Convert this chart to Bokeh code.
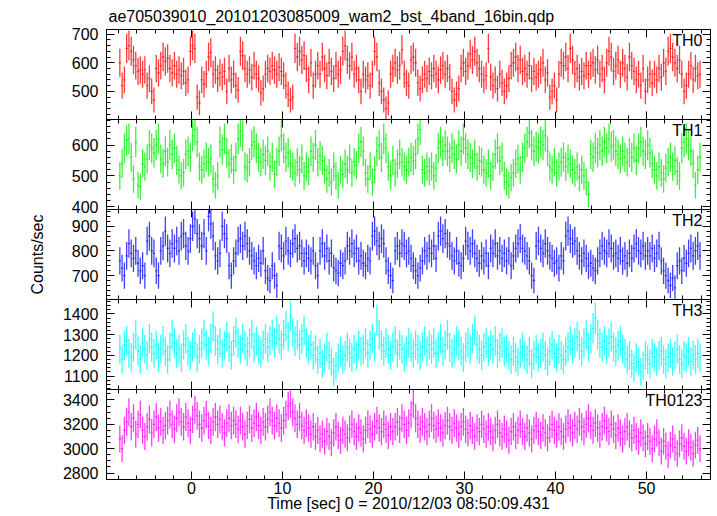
import numpy as np
from bokeh.plotting import figure
from bokeh.layouts import column
from bokeh.models import Range1d, LinearAxis, SingleIntervalTicker, Label
from bokeh.embed import file_html
from bokeh.resources import INLINE

title_text = "ae705039010_20101203085009_wam2_bst_4band_16bin.qdp"
x_label = "Time [sec] 0 = 2010/12/03 08:50:09.431"
y_label = "Counts/sec"
t_first = -7.875
bin_width = 0.25

names = ["TH0", "TH1", "TH2", "TH3", "TH0123"]

th0 = [600, 520, 540, 650, 660, 640, 610, 590, 570, 575,
       560, 575, 520, 545, 500, 470, 580, 565, 590, 620,
       605, 615, 580, 565, 590, 560, 575, 555, 570, 530,
       540, 640, 660, 650, 480, 460, 540, 525, 560, 620,
       635, 560, 575, 545, 565, 550, 570, 500, 580, 540,
       560, 520, 505, 640, 625, 580, 560, 575, 550, 590,
       560, 545, 495, 510, 560, 580, 570, 590, 575, 560,
       585, 570, 555, 520, 490, 470, 480, 650, 620, 640,
       610, 625, 580, 540, 600, 520, 560, 590, 560, 620,
       580, 555, 600, 570, 545, 590, 560, 575, 640, 660,
       610, 590, 620, 560, 580, 540, 500, 560, 540, 555,
       520, 560, 640, 620, 530, 500, 470, 440, 460, 560,
       580, 600, 575, 590, 645, 560, 530, 520, 610, 620,
       600, 530, 510, 540, 560, 545, 570, 555, 580, 560,
       540, 575, 590, 560, 580, 550, 500, 470, 490, 510,
       580, 600, 570, 590, 630, 610, 640, 600, 580, 560,
       540, 555, 650, 550, 520, 540, 510, 560, 530, 500,
       520, 545, 590, 600, 620, 580, 610, 570, 580, 560,
       590, 545, 570, 550, 560, 575, 600, 540, 565, 480,
       500, 520, 470, 560, 600, 590, 620, 580, 650, 610,
       560, 580, 550, 570, 555, 590, 560, 590, 600, 575,
       610, 560, 580, 540, 600, 640, 620, 570, 590, 610,
       560, 600, 580, 550, 620, 590, 570, 540, 560, 520,
       580, 500, 540, 560, 530, 560, 540, 580, 550, 600,
       570, 640, 650, 620, 600, 580, 610, 560, 500, 520,
       560, 590, 540, 580, 555, 560]

th1 = [500, 540, 590, 615, 620, 560, 490, 610, 470, 465,
       540, 530, 555, 600, 590, 575, 600, 620, 555, 540,
       580, 545, 600, 570, 590, 550, 520, 500, 510, 570,
       580, 560, 630, 650, 610, 530, 520, 540, 560, 545,
       555, 490, 470, 500, 610, 585, 620, 575, 540, 555,
       520, 560, 620, 645, 630, 530, 525, 545, 600, 610,
       590, 560, 545, 570, 550, 580, 530, 560, 505, 545,
       580, 630, 590, 560, 575, 540, 530, 510, 545, 520,
       555, 500, 530, 515, 580, 560, 600, 545, 565, 550,
       520, 490, 510, 480, 530, 500, 470, 520, 505, 540,
       520, 555, 510, 545, 535, 590, 610, 580, 510, 490,
       530, 480, 520, 580, 600, 560, 620, 590, 530, 500,
       550, 510, 540, 570, 545, 530, 520, 545, 560, 550,
       570, 620, 650, 520, 510, 530, 515, 530, 500, 525,
       590, 610, 580, 600, 580, 560, 590, 570, 555, 600,
       580, 620, 590, 570, 560, 540, 570, 530, 550, 545,
       520, 510, 540, 500, 530, 570, 590, 550, 560, 500,
       480, 470, 495, 510, 540, 555, 520, 560, 590, 610,
       640, 600, 580, 595, 590, 610, 600, 630, 580, 530,
       520, 545, 510, 530, 545, 560, 530, 555, 540, 520,
       510, 530, 495, 520, 500, 480, 440, 570, 560, 590,
       575, 600, 580, 610, 590, 620, 595, 600, 580, 570,
       555, 580, 560, 545, 575, 560, 590, 550, 590, 610,
       580, 570, 600, 575, 540, 520, 500, 530, 510, 490,
       525, 545, 560, 530, 550, 515, 500, 590, 610, 620,
       600, 580, 540, 470, 520, 560]

th2 = [760, 730, 700, 780, 830, 790, 770, 800, 750, 720,
       740, 700, 840, 860, 800, 790, 720, 700, 800, 820,
       880, 810, 790, 830, 810, 840, 800, 860, 870, 820,
       800, 850, 900, 930, 870, 850, 820, 870, 800, 940,
       910, 860, 780, 760, 790, 900, 870, 850, 740, 700,
       760, 790, 840, 850, 820, 860, 830, 800, 780, 760,
       740, 770, 750, 800, 720, 690, 680, 740, 700, 660,
       820, 810, 780, 840, 800, 790, 830, 850, 810, 820,
       790, 760, 790, 770, 760, 800, 740, 700, 800, 830,
       780, 810, 760, 790, 730, 720, 710, 750, 740, 760,
       820, 800, 830, 790, 810, 760, 780, 750, 740, 770,
       760, 860, 880, 840, 820, 850, 830, 760, 720, 700,
       680, 800, 820, 790, 830, 820, 790, 800, 770, 740,
       720, 700, 730, 760, 800, 780, 810, 790, 820, 770,
       860, 880, 850, 870, 830, 820, 780, 760, 800, 750,
       740, 770, 840, 820, 800, 830, 790, 770, 750, 780,
       760, 790, 740, 810, 790, 830, 780, 800, 770, 790,
       760, 800, 740, 780, 810, 830, 850, 810, 800, 780,
       760, 700, 680, 820, 840, 810, 790, 830, 800, 780,
       770, 750, 760, 730, 780, 760, 860, 880, 850, 830,
       840, 800, 780, 760, 790, 770, 740, 750, 730, 720,
       760, 790, 820, 800, 790, 830, 810, 780, 790, 770,
       800, 760, 780, 750, 790, 770, 810, 830, 800, 790,
       820, 780, 800, 780, 810, 770, 790, 820, 760, 720,
       700, 680, 660, 690, 650, 740, 760, 720, 770, 750,
       790, 810, 780, 800, 820, 780]

th3 = [1230, 1180, 1250, 1270, 1210, 1190, 1240, 1300, 1220, 1180,
       1260, 1230, 1200, 1280, 1240, 1210, 1250, 1190, 1230, 1270,
       1220, 1180, 1240, 1300, 1260, 1210, 1230, 1190, 1250, 1280,
       1220, 1200, 1240, 1260, 1190, 1230, 1260, 1300, 1250, 1220,
       1280, 1340, 1270, 1230, 1260, 1210, 1250, 1290, 1240, 1200,
       1270, 1310, 1260, 1230, 1280, 1250, 1220, 1260, 1300, 1240,
       1270, 1230, 1210, 1250, 1280, 1240, 1270, 1300, 1260, 1320,
       1280, 1250, 1300, 1340, 1290, 1390, 1310, 1270, 1300, 1250,
       1280, 1320, 1260, 1230, 1250, 1200, 1230, 1180, 1210, 1160,
       1190, 1240, 1200, 1170, 1120, 1150, 1190, 1220, 1180, 1200,
       1240, 1210, 1190, 1230, 1200, 1250, 1220, 1230, 1260, 1210,
       1250, 1280, 1240, 1370, 1300, 1250, 1220, 1260, 1230, 1200,
       1240, 1270, 1210, 1250, 1230, 1190, 1220, 1260, 1240, 1210,
       1250, 1230, 1200, 1240, 1270, 1220, 1250, 1230, 1260, 1210,
       1240, 1280, 1220, 1250, 1300, 1240, 1210, 1230, 1270, 1250,
       1220, 1190, 1240, 1260, 1230, 1280, 1320, 1250, 1230, 1200,
       1240, 1260, 1220, 1250, 1230, 1270, 1210, 1240, 1260, 1220,
       1230, 1200, 1180, 1220, 1190, 1170, 1210, 1240, 1200, 1180,
       1220, 1160, 1200, 1230, 1190, 1210, 1240, 1200, 1170, 1220,
       1250, 1210, 1190, 1230, 1200, 1180, 1220, 1240, 1270, 1230,
       1260, 1290, 1250, 1220, 1260, 1300, 1240, 1280, 1330, 1380,
       1300, 1260, 1240, 1270, 1230, 1260, 1290, 1240, 1220, 1250,
       1270, 1230, 1210, 1180, 1200, 1160, 1140, 1190, 1170, 1120,
       1150, 1200, 1180, 1160, 1210, 1190, 1170, 1200, 1220, 1180,
       1160, 1190, 1210, 1170, 1200, 1230, 1180, 1160, 1200, 1190,
       1220, 1170, 1200, 1180, 1210, 1190]

th0123 = [3080, 3000, 3150, 3220, 3300, 3180, 3250, 3120, 3200, 3280,
          3150, 3100, 3180, 3240, 3130, 3200, 3260, 3170, 3220, 3150,
          3190, 3230, 3280, 3200, 3160, 3250, 3300, 3220, 3180, 3260,
          3210, 3150, 3240, 3320, 3270, 3200, 3170, 3230, 3280, 3190,
          3150, 3220, 3260, 3200, 3240, 3180, 3130, 3210, 3250, 3190,
          3230, 3200, 3160, 3230, 3180, 3120, 3190, 3240, 3170, 3210,
          3260, 3190, 3150, 3220, 3180, 3240, 3300, 3230, 3190, 3250,
          3210, 3170, 3230, 3280, 3350, 3370, 3300, 3250, 3200, 3260,
          3190, 3150, 3210, 3170, 3120, 3180, 3100, 3150, 3080, 3120,
          3060, 3140, 3100, 3050, 3130, 3180, 3110, 3070, 3150, 3120,
          3090, 3160, 3200, 3140, 3100, 3170, 3130, 3080, 3150, 3200,
          3160, 3120, 3180, 3230, 3170, 3140, 3200, 3160, 3110, 3180,
          3140, 3180, 3220, 3160, 3250, 3200, 3150, 3210, 3280, 3370,
          3250, 3200, 3160, 3220, 3180, 3140, 3200, 3250, 3190, 3160,
          3210, 3170, 3130, 3190, 3230, 3180, 3150, 3210, 3170, 3120,
          3180, 3220, 3160, 3130, 3190, 3150, 3100, 3170, 3140, 3200,
          3160, 3120, 3180, 3140, 3090, 3150, 3200, 3130, 3100, 3160,
          3120, 3070, 3140, 3180, 3110, 3150, 3200, 3140, 3100, 3170,
          3130, 3080, 3150, 3190, 3140, 3110, 3170, 3130, 3090, 3160,
          3200, 3150, 3120, 3180, 3140, 3100, 3160, 3210, 3170, 3130,
          3190, 3160, 3220, 3180, 3140, 3200, 3250, 3190, 3150, 3210,
          3170, 3120, 3180, 3230, 3170, 3140, 3200, 3160, 3110, 3170,
          3130, 3080, 3140, 3180, 3120, 3090, 3150, 3100, 3060, 3130,
          3090, 3040, 3100, 3060, 3000, 3080, 3130, 3050, 2980, 3060,
          3020, 2950, 3030, 3080, 3010, 2960, 3040, 3090, 3020, 2980,
          3050, 3010, 2960, 3030, 3070, 3000]

series = [th0, th1, th2, th3, th0123]
colors = ["#ff2424", "#24f024", "#2a2aff", "#1cffff", "#ff24ff"]
y_limits = [(402, 716), (391, 683), (603, 968), (1035, 1470), (2747, 3486)]
y_major = [100, 100, 100, 100, 200]
y_minor = [5, 5, 5, 5, 4]
x_limits = (-9.34, 57.03)

FONT = "Liberation Sans"
FS = "16px"
OVERLAP = 10

x_range = Range1d(*x_limits)


def tick_style(ax, show_labels):
    ax.axis_line_color = "black"
    ax.major_tick_line_color = "black"
    ax.minor_tick_line_color = "black"
    ax.major_tick_in = 8
    ax.major_tick_out = 0
    ax.minor_tick_in = 4
    ax.minor_tick_out = 0
    if show_labels:
        ax.major_label_text_font = FONT
        ax.major_label_text_font_size = FS
        ax.major_label_text_color = "black"
    else:
        ax.major_label_text_font_size = "0px"
        ax.major_label_text_color = None
        ax.major_label_standoff = 0


figs = []
n = len(series)
for k in range(n):
    vals = np.array(series[k], dtype=float)
    t = t_first + bin_width * np.arange(len(vals))
    err = np.sqrt(vals / bin_width)
    lo, hi = y_limits[k]
    p = figure(frame_width=604, frame_height=90,
               x_range=x_range, y_range=Range1d(lo, hi),
               output_backend="svg", toolbar_location=None,
               x_axis_location=None, y_axis_location=None,
               min_border_left=106, min_border_right=3,
               min_border_top=27 if k == 0 else 0,
               min_border_bottom=OVERLAP if k < n - 1 else 0)
    if k > 0:
        p.margin = (-OVERLAP, 0, 0, 0)
    p.grid.visible = False
    p.outline_line_color = "black"
    p.outline_line_width = 1
    p.background_fill_color = "white"
    p.border_fill_color = None

    c = colors[k]
    p.segment(x0=t, y0=vals - err, x1=t, y1=vals + err,
              line_color=c, line_width=1.3, line_alpha=0.9)
    p.segment(x0=t - bin_width / 2, y0=vals, x1=t + bin_width / 2, y1=vals,
              line_color=c, line_width=1.3, line_alpha=0.9)

    yl = LinearAxis(ticker=SingleIntervalTicker(interval=y_major[k], num_minor_ticks=y_minor[k]))
    tick_style(yl, True)
    yl.major_label_standoff = 8
    if k == 2:
        yl.axis_label = y_label
        yl.axis_label_text_font = FONT
        yl.axis_label_text_font_size = FS
        yl.axis_label_text_font_style = "normal"
        yl.axis_label_text_color = "black"
        yl.axis_label_standoff = 23
    p.add_layout(yl, "left")

    yr = LinearAxis(ticker=SingleIntervalTicker(interval=y_major[k], num_minor_ticks=y_minor[k]))
    tick_style(yr, False)
    p.add_layout(yr, "right")

    xt = LinearAxis(ticker=SingleIntervalTicker(interval=10, num_minor_ticks=5))
    tick_style(xt, False)
    p.add_layout(xt, "above")

    xb = LinearAxis(ticker=SingleIntervalTicker(interval=10, num_minor_ticks=5))
    if k == n - 1:
        tick_style(xb, True)
        xb.major_label_standoff = 2
        xb.axis_label = x_label
        xb.axis_label_text_font = FONT
        xb.axis_label_text_font_size = FS
        xb.axis_label_text_font_style = "normal"
        xb.axis_label_text_color = "black"
        xb.axis_label_standoff = -2
    else:
        tick_style(xb, False)
    p.add_layout(xb, "below")

    p.add_layout(Label(x=x_limits[1], y=hi, x_offset=-8, y_offset=-2,
                       text=names[k], text_align="right", text_baseline="top",
                       text_font=FONT, text_font_size=FS, text_color="black"))

    if k == 0:
        p.title.text = title_text
        p.title.align = "left"
        p.title.offset = 2
        p.title.standoff = 10
        p.title.text_font = FONT
        p.title.text_font_size = FS
        p.title.text_font_style = "normal"
        p.title.text_color = "black"
    figs.append(p)

layout = column(*figs, spacing=0)
open("out.html", "w").write(file_html(layout, INLINE))
